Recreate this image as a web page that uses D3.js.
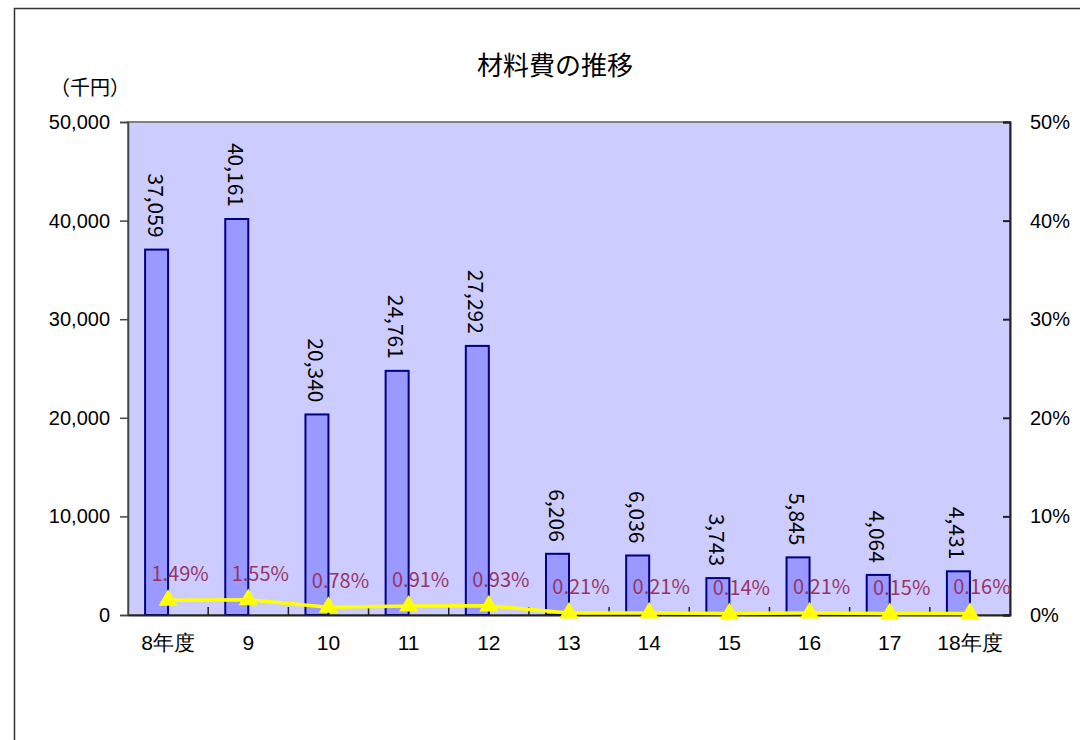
<!DOCTYPE html>
<html>
<head>
<meta charset="utf-8">
<script src="https://cdn.jsdelivr.net/npm/d3@7"></script>
<style>
  body { margin: 0; background: #fff; }
  svg { font-family: "Noto Sans CJK JP", "Noto Sans", sans-serif; }
</style>
</head>
<body>
<svg id="chart" width="1080" height="740"></svg>
<script>
const years = ["8年度", "9", "10", "11", "12", "13", "14", "15", "16", "17", "18年度"]
const costs = [37059, 40161, 20340, 24761, 27292, 6206, 6036, 3743, 5845, 4064, 4431]
const ratios = [1.49, 1.55, 0.78, 0.91, 0.93, 0.21, 0.21, 0.14, 0.21, 0.15, 0.16]
const leftTicks = [0, 10000, 20000, 30000, 40000, 50000]
const rightTicks = [0, 10, 20, 30, 40, 50]

let svg = d3.select("#chart")
let width = 1080, height = 740
let margin = { top: 122, right: 70, bottom: 125, left: 128 }

// outer chart frame (runs past the picture edge)
svg.append("rect")
  .attr("x", 14.5).attr("y", 8.5)
  .attr("width", 1100).attr("height", 800)
  .style("fill", "none")
  .style("stroke", "#333")
  .style("stroke-width", "1.5px")

let x = d3.scaleBand()
  .domain(years)
  .range([margin.left, width - margin.right])

let y = d3.scaleLinear()
  .domain([0, 50000])
  .range([height - margin.bottom, margin.top])

let y2 = d3.scaleLinear()
  .domain([0, 50])
  .range([height - margin.bottom, margin.top])

let cx = d => x(d) + x.bandwidth() / 2
let barW = 23

// plot background
svg.append("rect")
  .attr("x", margin.left).attr("y", margin.top)
  .attr("width", width - margin.right - margin.left)
  .attr("height", height - margin.bottom - margin.top)
  .style("fill", "#ccccff")
  .style("stroke", "#808080")
  .style("stroke-width", "2px")

// bars
svg.append("g")
  .selectAll("rect")
  .data(costs)
  .join("rect")
  .attr("x", (d, i) => cx(years[i]) - barW)
  .attr("y", d => y(d))
  .attr("width", barW)
  .attr("height", d => y(0) - y(d))
  .style("fill", "#9999ff")
  .style("stroke", "#000080")
  .style("stroke-width", "2px")

// bar value labels, rotated
svg.append("g")
  .selectAll("text")
  .data(costs)
  .join("text")
  .attr("transform", (d, i) => `translate(${cx(years[i]) - barW / 2},${y(d) - 12}) rotate(90)`)
  .attr("text-anchor", "end")
  .attr("dominant-baseline", "central")
  .style("font-size", "21px")
  .style("fill", "#000")
  .text(d => d3.format(",")(d))

// axes
let yAxis = svg.append("g")
  .attr("transform", `translate(${margin.left},0)`)
  .call(d3.axisLeft(y).tickValues(leftTicks).tickSize(8).tickPadding(10).tickFormat(d3.format(",")))
yAxis.selectAll("text").style("font-size", "20px").style("fill", "#000")
  .style("font-family", "'Liberation Sans', Arial, sans-serif")
yAxis.selectAll("line, path").style("stroke", "#444").style("stroke-width", "1.5px")

let y2Axis = svg.append("g")
  .attr("transform", `translate(${width - margin.right},0)`)
  .call(d3.axisRight(y2).tickValues(rightTicks).tickSize(-7).tickPadding(20).tickFormat(d => d + "%"))
y2Axis.selectAll("text").style("font-size", "20px").style("fill", "#000")
  .style("font-family", "'Liberation Sans', Arial, sans-serif")
y2Axis.selectAll("line, path").style("stroke", "#222").style("stroke-width", "2px")

let xAxis = svg.append("g")
  .attr("transform", `translate(0,${height - margin.bottom})`)
  .call(d3.axisBottom(x).tickSize(0).tickPadding(20))
xAxis.selectAll("text").style("font-size", "21px").style("fill", "#000")
xAxis.select("path").style("stroke", "#222").style("stroke-width", "2px")

// category boundary ticks (inward)
svg.append("g")
  .selectAll("line")
  .data(years.slice(1))
  .join("line")
  .attr("x1", d => x(d)).attr("x2", d => x(d))
  .attr("y1", y(0)).attr("y2", y(0) - 8)
  .style("stroke", "#222")
  .style("stroke-width", "1.5px")

// ratio line
let line = d3.line()
  .x((d, i) => cx(years[i]))
  .y(d => y2(d))

svg.append("path")
  .datum(ratios)
  .attr("d", line)
  .style("fill", "none")
  .style("stroke", "#ffff00")
  .style("stroke-width", "3.5px")

svg.append("g")
  .selectAll("path")
  .data(ratios)
  .join("path")
  .attr("transform", (d, i) => `translate(${cx(years[i])},${y2(d)})`)
  .attr("d", d3.symbol().type(d3.symbolTriangle).size(160))
  .style("fill", "#ffff00")

svg.append("g")
  .selectAll("text")
  .data(ratios)
  .join("text")
  .attr("x", (d, i) => cx(years[i]) + 12)
  .attr("y", d => y2(d) - 19)
  .attr("text-anchor", "middle")
  .style("font-size", "20px")
  .style("fill", "#993366")
  .text(d => d.toFixed(2) + "%")

// titles
svg.append("text")
  .attr("x", 555).attr("y", 75)
  .attr("text-anchor", "middle")
  .style("font-size", "26px")
  .style("fill", "#000")
  .text("材料費の推移")

svg.append("text")
  .attr("x", 50).attr("y", 95)
  .style("font-size", "20px")
  .style("fill", "#000")
  .text("（千円）")
</script>
</body>
</html>
